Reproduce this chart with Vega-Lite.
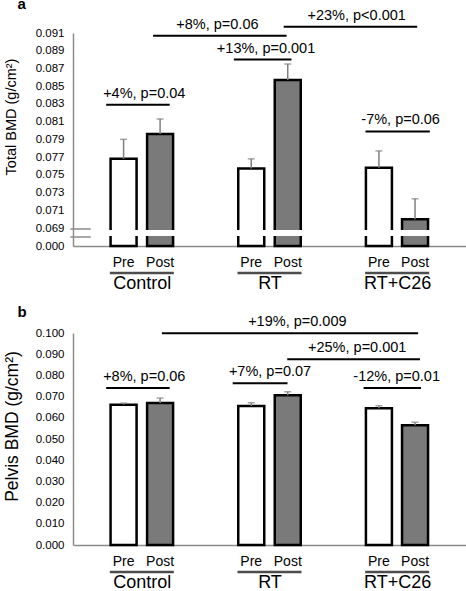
{
  "$schema": "https://vega.github.io/schema/vega-lite/v6.json",
  "autosize": {"type": "pad"},
  "padding": {"left": 3, "top": -3, "right": 0, "bottom": 0},
  "background": "white",
  "config": {
    "font": "Liberation Sans",
    "view": {"stroke": null},
    "text": {"font": "Liberation Sans", "color": "black"},
    "axis": {"labelFont": "Liberation Sans", "titleFont": "Liberation Sans", "labelColor": "black", "titleColor": "black", "grid": false, "labelOverlap": false}
  },
  "datasets": {
    "total": [
      {"group": "Control", "phase": "Pre", "pos": 0.857, "mean": 0.0768, "err": 0.0790},
      {"group": "Control", "phase": "Post", "pos": 1.143, "mean": 0.0796, "err": 0.0813},
      {"group": "RT", "phase": "Pre", "pos": 1.857, "mean": 0.0757, "err": 0.0768},
      {"group": "RT", "phase": "Post", "pos": 2.143, "mean": 0.0857, "err": 0.0875},
      {"group": "RT+C26", "phase": "Pre", "pos": 2.857, "mean": 0.0758, "err": 0.0777},
      {"group": "RT+C26", "phase": "Post", "pos": 3.14, "mean": 0.0700, "err": 0.0723}
    ],
    "pelvis": [
      {"group": "Control", "phase": "Pre", "pos": 0.857, "mean": 0.0662, "err": 0.0669},
      {"group": "Control", "phase": "Post", "pos": 1.143, "mean": 0.0670, "err": 0.0693},
      {"group": "RT", "phase": "Pre", "pos": 1.857, "mean": 0.0656, "err": 0.0671},
      {"group": "RT", "phase": "Post", "pos": 2.143, "mean": 0.0706, "err": 0.0723},
      {"group": "RT+C26", "phase": "Pre", "pos": 2.857, "mean": 0.0645, "err": 0.0657},
      {"group": "RT+C26", "phase": "Post", "pos": 3.14, "mean": 0.0565, "err": 0.0579}
    ],
    "groups": [
      {"group": "Control", "c": 1},
      {"group": "RT", "c": 2},
      {"group": "RT+C26", "c": 3}
    ],
    "annTotal": [
      {"label": "+4%, p=0.04", "x1": 0.721, "x2": 1.218, "tx": 1.019, "y": 0.0829},
      {"label": "+8%, p=0.06", "x1": 1.088, "x2": 2.134, "tx": 1.592, "y": 0.0907},
      {"label": "+23%, p<0.001", "x1": 2.111, "x2": 3.157, "tx": 2.683, "y": 0.0917},
      {"label": "+13%, p=0.001", "x1": 1.721, "x2": 2.172, "tx": 1.973, "y": 0.0880},
      {"label": "-7%, p=0.06", "x1": 2.752, "x2": 3.256, "tx": 3.027, "y": 0.0799}
    ],
    "annPelvis": [
      {"label": "+8%, p=0.06", "x1": 0.721, "x2": 1.218, "tx": 1.019, "y": 0.0741},
      {"label": "+19%, p=0.009", "x1": 1.157, "x2": 3.164, "tx": 2.218, "y": 0.0999},
      {"label": "+25%, p=0.001", "x1": 2.139, "x2": 3.179, "tx": 2.687, "y": 0.0876},
      {"label": "+7%, p=0.07", "x1": 1.712, "x2": 2.141, "tx": 2.004, "y": 0.0763},
      {"label": "-12%, p=0.01", "x1": 2.737, "x2": 3.187, "tx": 2.996, "y": 0.0741}
    ]
  },
  "vconcat": [
    {
      "width": 393,
      "height": 213,
      "layer": [
        {
          "data": {"name": "total"},
          "mark": {"type": "bar", "width": 26, "stroke": "black", "strokeWidth": 2.5, "orient": "vertical"},
          "encoding": {
            "x": {"field": "pos", "type": "quantitative", "scale": {"domain": [0.5, 3.5], "nice": false, "zero": false},
                  "axis": {"title": null, "values": [1, 2, 3], "labelExpr": "datum.value == 1 ? 'Control' : datum.value == 2 ? 'RT' : 'RT+C26'", "ticks": false, "tickCount": 20, "labelPadding": 28, "labelFontSize": 18, "domainColor": "#8c8c8c", "domainWidth": 1.5, "labelOverlap": false}},
            "y": {"field": "mean", "type": "quantitative", "scale": {"domain": [0, 0.069, 0.091], "range": [213, 195, 0], "nice": false, "zero": false},
                  "axis": {"title": "Total BMD (g/cm²)", "titleFontSize": 14.5, "titleFontWeight": "normal", "titleX": -54.5, "titleY": 83.5, "values": [0, 0.069, 0.071, 0.073, 0.075, 0.077, 0.079, 0.081, 0.083, 0.085, 0.087, 0.089, 0.091], "tickCount": 20, "format": ".3f", "ticks": false, "labelPadding": 9, "labelFontSize": 11.5, "labelOverlap": false, "domainColor": "#8c8c8c", "domainWidth": 1.5}},
            "y2": {"datum": 0},
            "fill": {"field": "phase", "type": "nominal", "scale": {"domain": ["Pre", "Post"], "range": ["white", "#7a7a7a"]}, "legend": null}
          }
        },
        {
          "data": {"name": "total"},
          "mark": {"type": "rule", "color": "#808080", "strokeWidth": 1.5},
          "encoding": {
            "x": {"field": "pos", "type": "quantitative", "title": null},
            "y": {"field": "mean", "type": "quantitative", "title": "Total BMD (g/cm²)"},
            "y2": {"field": "err"}
          }
        },
        {
          "data": {"name": "total"},
          "mark": {"type": "tick", "orient": "horizontal", "color": "#808080", "size": 7, "thickness": 1.5},
          "encoding": {
            "x": {"field": "pos", "type": "quantitative", "title": null},
            "y": {"field": "err", "type": "quantitative", "title": "Total BMD (g/cm²)"}
          }
        },
        {
          "data": {"values": [{}]},
          "mark": {"type": "rect", "color": "white"},
          "encoding": {
            "x": {"datum": 0.48},
            "x2": {"datum": 3.5},
            "y": {"datum": 0.0385},
            "y2": {"datum": 0.061}
          }
        },
        {
          "data": {"values": [{}]},
          "mark": {"type": "rule", "color": "#8c8c8c", "strokeWidth": 1.5},
          "encoding": {
            "x": {"datum": 0.44},
            "x2": {"datum": 0.6},
            "y": {"datum": 0.0652}
          }
        },
        {
          "data": {"values": [{}]},
          "mark": {"type": "rule", "color": "#8c8c8c", "strokeWidth": 1.5},
          "encoding": {
            "x": {"datum": 0.44},
            "x2": {"datum": 0.6},
            "y": {"datum": 0.0345}
          }
        },
        {
          "data": {"values": [{}]},
          "mark": {"type": "text", "text": "a", "fontSize": 15, "fontWeight": "bold", "align": "left", "baseline": "alphabetic"},
          "encoding": {
            "x": {"datum": 0.027},
            "y": {"datum": 0.0937}
          }
        },
        {
          "data": {"name": "total"},
          "mark": {"type": "text", "fontSize": 14, "baseline": "middle", "dy": 17},
          "encoding": {
            "x": {"field": "pos", "type": "quantitative", "title": null},
            "y": {"datum": 0},
            "text": {"field": "phase"}
          }
        },
        {
          "data": {"name": "groups"},
          "mark": {"type": "tick", "orient": "horizontal", "color": "black", "size": 64, "thickness": 2.5, "yOffset": 27},
          "encoding": {
            "x": {"field": "c", "type": "quantitative", "title": null},
            "y": {"datum": 0}
          }
        },
        {
          "data": {"name": "annTotal"},
          "mark": {"type": "rule", "color": "black", "strokeWidth": 2},
          "encoding": {
            "x": {"field": "x1", "type": "quantitative", "title": null},
            "x2": {"field": "x2"},
            "y": {"field": "y", "type": "quantitative", "title": "Total BMD (g/cm²)"}
          }
        },
        {
          "data": {"name": "annTotal"},
          "mark": {"type": "text", "fontSize": 14.5, "baseline": "alphabetic", "dy": -7},
          "encoding": {
            "x": {"field": "tx", "type": "quantitative", "title": null},
            "y": {"field": "y", "type": "quantitative", "title": "Total BMD (g/cm²)"},
            "text": {"field": "label"}
          }
        }
      ]
    },
    {
      "width": 393,
      "height": 212,
      "layer": [
        {
          "data": {"name": "pelvis"},
          "mark": {"type": "bar", "width": 26, "stroke": "black", "strokeWidth": 2.5, "orient": "vertical"},
          "encoding": {
            "x": {"field": "pos", "type": "quantitative", "scale": {"domain": [0.5, 3.5], "nice": false, "zero": false},
                  "axis": {"title": null, "values": [1, 2, 3], "labelExpr": "datum.value == 1 ? 'Control' : datum.value == 2 ? 'RT' : 'RT+C26'", "ticks": false, "tickCount": 20, "labelPadding": 28, "labelFontSize": 18, "domainColor": "#8c8c8c", "domainWidth": 1.5, "labelOverlap": false}},
            "y": {"field": "mean", "type": "quantitative", "scale": {"domain": [0, 0.1], "nice": false, "zero": false},
                  "axis": {"title": "Pelvis BMD (g/cm²)", "titleFontSize": 17.5, "titleFontWeight": "normal", "titleX": -51.5, "titleY": 93, "values": [0, 0.01, 0.02, 0.03, 0.04, 0.05, 0.06, 0.07, 0.08, 0.09, 0.1], "tickCount": 20, "format": ".3f", "ticks": false, "labelPadding": 9, "labelFontSize": 11.5, "labelOverlap": false, "domainColor": "#8c8c8c", "domainWidth": 1.5}},
            "y2": {"datum": 0},
            "fill": {"field": "phase", "type": "nominal", "scale": {"domain": ["Pre", "Post"], "range": ["white", "#7a7a7a"]}, "legend": null}
          }
        },
        {
          "data": {"name": "pelvis"},
          "mark": {"type": "rule", "color": "#808080", "strokeWidth": 1.5},
          "encoding": {
            "x": {"field": "pos", "type": "quantitative", "title": null},
            "y": {"field": "mean", "type": "quantitative", "title": "Pelvis BMD (g/cm²)"},
            "y2": {"field": "err"}
          }
        },
        {
          "data": {"name": "pelvis"},
          "mark": {"type": "tick", "orient": "horizontal", "color": "#808080", "size": 7, "thickness": 1.5},
          "encoding": {
            "x": {"field": "pos", "type": "quantitative", "title": null},
            "y": {"field": "err", "type": "quantitative", "title": "Pelvis BMD (g/cm²)"}
          }
        },
        {
          "data": {"values": [{}]},
          "mark": {"type": "text", "text": "b", "fontSize": 15, "fontWeight": "bold", "align": "left", "baseline": "alphabetic"},
          "encoding": {
            "x": {"datum": 0.027},
            "y": {"datum": 0.1075}
          }
        },
        {
          "data": {"name": "pelvis"},
          "mark": {"type": "text", "fontSize": 14, "baseline": "middle", "dy": 17},
          "encoding": {
            "x": {"field": "pos", "type": "quantitative", "title": null},
            "y": {"datum": 0},
            "text": {"field": "phase"}
          }
        },
        {
          "data": {"name": "groups"},
          "mark": {"type": "tick", "orient": "horizontal", "color": "black", "size": 64, "thickness": 2.5, "yOffset": 27},
          "encoding": {
            "x": {"field": "c", "type": "quantitative", "title": null},
            "y": {"datum": 0}
          }
        },
        {
          "data": {"name": "annPelvis"},
          "mark": {"type": "rule", "color": "black", "strokeWidth": 2},
          "encoding": {
            "x": {"field": "x1", "type": "quantitative", "title": null},
            "x2": {"field": "x2"},
            "y": {"field": "y", "type": "quantitative", "title": "Pelvis BMD (g/cm²)"}
          }
        },
        {
          "data": {"name": "annPelvis"},
          "mark": {"type": "text", "fontSize": 14.5, "baseline": "alphabetic", "dy": -7},
          "encoding": {
            "x": {"field": "tx", "type": "quantitative", "title": null},
            "y": {"field": "y", "type": "quantitative", "title": "Pelvis BMD (g/cm²)"},
            "text": {"field": "label"}
          }
        }
      ]
    }
  ],
  "spacing": 87,
  "bounds": "flush"
}
